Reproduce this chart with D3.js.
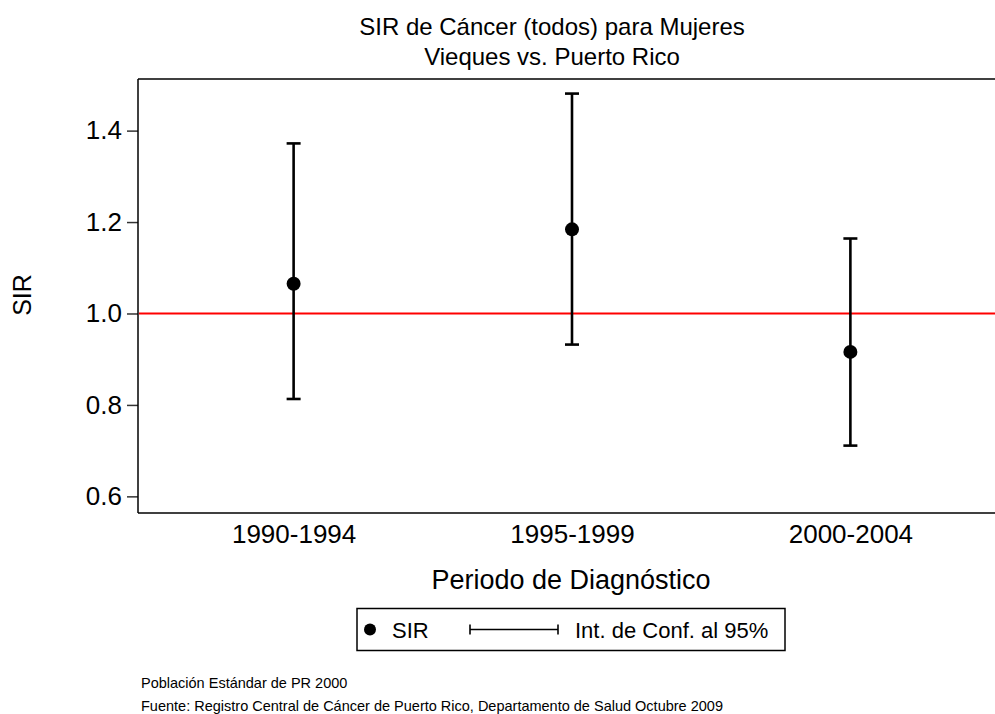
<!DOCTYPE html>
<html>
<head>
<meta charset="utf-8">
<script src="https://cdn.jsdelivr.net/npm/d3@7"></script>
<style>
  body { margin: 0; background: #fff; }
  svg { display: block; font-family: "Liberation Sans", Arial, sans-serif; }
</style>
</head>
<body>
<div id="chart"></div>
<script>
'use strict'

// data
const periods = ["1990-1994", "1995-1999", "2000-2004"]
const sir = [1.065, 1.184, 0.916]
const ciLower = [0.813, 0.932, 0.711]
const ciUpper = [1.372, 1.481, 1.164]
const yTicks = [0.6, 0.8, 1.0, 1.2, 1.4]
const refValue = 1.0
const titleLines = ["SIR de Cáncer (todos) para Mujeres", "Vieques vs. Puerto Rico"]
const notes = ["Población Estándar de PR 2000",
  "Fuente: Registro Central de Cáncer de Puerto Rico, Departamento de Salud Octubre 2009"]

const width = 995, height = 714
const plot = {left: 138, top: 79, right: 1006, bottom: 513}

const svg = d3.select("#chart").append("svg")
  .attr("width", width)
  .attr("height", height)

svg.append("rect").attr("width", width).attr("height", height).attr("fill", "#fff")

const x = d3.scalePoint()
  .domain(periods)
  .range([plot.left, plot.right])
  .padding(0.559)

const y = d3.scaleLinear()
  .domain([0.5636, 1.5129])
  .range([plot.bottom, plot.top])

// title
svg.append("g").selectAll("text")
  .data(titleLines)
  .enter().append("text")
    .attr("x", 552)
    .attr("y", (d, i) => 35 + i * 30)
    .attr("text-anchor", "middle")
    .attr("font-size", 24)
    .attr("fill", "#000")
    .text(d => d)

// y axis
const yAxis = svg.append("g")
  .attr("transform", "translate(" + plot.left + ",0)")
  .call(d3.axisLeft(y).tickValues(yTicks).tickFormat(d3.format(".1f")).tickSize(11).tickPadding(5))
yAxis.select(".domain").remove()
yAxis.selectAll(".tick line").attr("stroke", "#333").attr("stroke-width", 1.5)
yAxis.selectAll(".tick text").attr("font-size", 26).attr("fill", "#000")
  .attr("font-family", "'Liberation Sans', Arial, sans-serif")

// x axis labels (no ticks)
const xAxis = svg.append("g")
  .attr("transform", "translate(0," + plot.bottom + ")")
  .call(d3.axisBottom(x).tickSize(0).tickPadding(12))
xAxis.select(".domain").remove()
xAxis.selectAll(".tick text").attr("font-size", 26).attr("fill", "#000")
  .attr("font-family", "'Liberation Sans', Arial, sans-serif")

// frame: left, top, bottom
const frame = svg.append("g").attr("stroke", "#000").attr("stroke-width", 1.5).attr("fill", "none")
frame.append("line").attr("x1", plot.left).attr("x2", plot.left).attr("y1", plot.top).attr("y2", plot.bottom)
frame.append("line").attr("x1", plot.left).attr("x2", width).attr("y1", plot.top).attr("y2", plot.top)
frame.append("line").attr("x1", plot.left).attr("x2", width).attr("y1", plot.bottom).attr("y2", plot.bottom)

// reference line
svg.append("line")
  .attr("x1", plot.left + 1).attr("x2", width)
  .attr("y1", y(refValue)).attr("y2", y(refValue))
  .attr("stroke", "#ff0000")
  .attr("stroke-width", 2)

// error bars
const bars = svg.append("g").attr("stroke", "#000").attr("stroke-width", 2.6)
  .selectAll("g")
  .data(periods)
  .enter().append("g")

bars.append("line")
  .attr("x1", d => x(d)).attr("x2", d => x(d))
  .attr("y1", (d, i) => y(ciLower[i])).attr("y2", (d, i) => y(ciUpper[i]))
bars.append("line")
  .attr("x1", d => x(d) - 7).attr("x2", d => x(d) + 7)
  .attr("y1", (d, i) => y(ciUpper[i])).attr("y2", (d, i) => y(ciUpper[i]))
bars.append("line")
  .attr("x1", d => x(d) - 7).attr("x2", d => x(d) + 7)
  .attr("y1", (d, i) => y(ciLower[i])).attr("y2", (d, i) => y(ciLower[i]))

// points
svg.append("g").selectAll("circle")
  .data(periods)
  .enter().append("circle")
    .attr("cx", d => x(d))
    .attr("cy", (d, i) => y(sir[i]))
    .attr("r", 7)
    .attr("fill", "#000")

// axis titles
svg.append("text")
  .attr("transform", "translate(31,295) rotate(-90)")
  .attr("text-anchor", "middle")
  .attr("font-size", 25)
  .text("SIR")

svg.append("text")
  .attr("x", 571).attr("y", 589)
  .attr("text-anchor", "middle")
  .attr("font-size", 27)
  .text("Periodo de Diagnóstico")

// legend
const legend = svg.append("g")
legend.append("rect")
  .attr("x", 357).attr("y", 608.5).attr("width", 428).attr("height", 42)
  .attr("fill", "none").attr("stroke", "#000").attr("stroke-width", 1.5)
const ly = 629.5
legend.append("circle").attr("cx", 370).attr("cy", ly).attr("r", 6).attr("fill", "#000")
legend.append("text").attr("x", 392).attr("y", ly + 8).attr("font-size", 22).text("SIR")
const ci = legend.append("g").attr("stroke", "#000").attr("stroke-width", 1.6)
ci.append("line").attr("x1", 470).attr("x2", 558).attr("y1", ly).attr("y2", ly)
ci.append("line").attr("x1", 470).attr("x2", 470).attr("y1", ly - 5).attr("y2", ly + 5)
ci.append("line").attr("x1", 558).attr("x2", 558).attr("y1", ly - 5).attr("y2", ly + 5)
legend.append("text").attr("x", 575).attr("y", ly + 8).attr("font-size", 22).text("Int. de Conf. al 95%")

// notes
svg.append("g").selectAll("text")
  .data(notes)
  .enter().append("text")
    .attr("x", 141)
    .attr("y", (d, i) => 688 + i * 23)
    .attr("font-size", 14.5)
    .text(d => d)
</script>
</body>
</html>
